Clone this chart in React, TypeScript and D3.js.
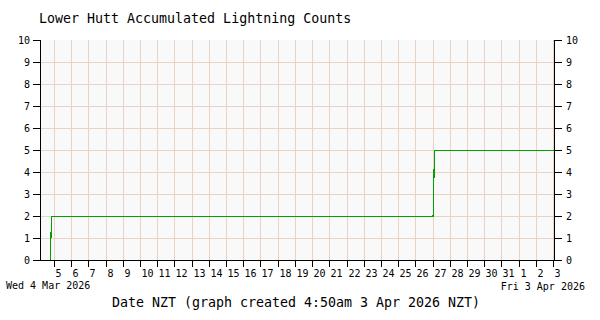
import React from "react";
import * as d3 from "d3";

const title = "Lower Hutt Accumulated Lightning Counts";
const xTitle = "Date NZT (graph created 4:50am 3 Apr 2026 NZT)";
const startLabel = "Wed 4 Mar 2026";
const endLabel = "Fri 3 Apr 2026";
const yTicks = [0, 1, 2, 3, 4, 5, 6, 7, 8, 9, 10];

// accumulated count samples (NZT)
const sampleTimes = [
  new Date(2026, 2, 4, 4, 30),
  new Date(2026, 2, 4, 18, 0),
  new Date(2026, 2, 4, 20, 0),
  new Date(2026, 2, 27, 0, 0),
  new Date(2026, 2, 27, 2, 0),
  new Date(2026, 3, 3, 1, 20),
];
const sampleCounts = [0, 0, 2, 2, 5, 5];

const domainStart = new Date(2026, 2, 4, 4, 30);
const domainEnd = new Date(2026, 3, 3, 1, 20);

const FONT = "'DejaVu Sans Mono', monospace";

export default function App() {
  const left = 40, right = 554, top = 40, bottom = 260;
  const x = d3.scaleTime().domain([domainStart, domainEnd]).range([left, right]);
  const y = d3.scaleLinear().domain([0, 10]).range([bottom, top]);
  const px = (v: number) => Math.round(v) + 0.5;

  const dayTicks = d3.timeDay.range(d3.timeDay.ceil(domainStart), domainEnd);
  const data = sampleTimes.map((t, i) => ({ t, v: sampleCounts[i] }));
  const line = d3
    .line<{ t: Date; v: number }>()
    .x((d) => x(d.t) + 0.5)
    .y((d) => px(y(d.v)));

  return (
    <svg
      width={600}
      height={320}
      style={{ position: "absolute", left: 0, top: 0, background: "#fff" }}
      fontFamily={FONT}
    >
      <rect x={0} y={0} width={600} height={320} fill="#fff" />
      <rect x={left} y={top} width={right - left} height={bottom - top} fill="#f9f9f9" />
      <g stroke="#ebd2c6" strokeWidth={1} shapeRendering="crispEdges">
        {dayTicks.map((d, i) => (
          <line key={"gx" + i} x1={px(x(d))} x2={px(x(d))} y1={top} y2={bottom} />
        ))}
        {yTicks.slice(1, -1).map((v) => (
          <line key={"gy" + v} x1={left} x2={right} y1={px(y(v))} y2={px(y(v))} />
        ))}
      </g>
      <path
        d={line(data) || ""}
        fill="none"
        stroke="#00a000"
        strokeWidth={1.2}
        shapeRendering="crispEdges"
      />
      <g stroke="#000" strokeWidth={1} shapeRendering="crispEdges">
        <line x1={left + 0.5} x2={left + 0.5} y1={top} y2={bottom + 1} />
        <line x1={right + 0.5} x2={right + 0.5} y1={top} y2={bottom + 1} />
        <line x1={left} x2={right + 1} y1={bottom + 0.5} y2={bottom + 0.5} />
        {yTicks.map((v) => (
          <g key={"ty" + v}>
            <line x1={33} x2={left} y1={px(y(v))} y2={px(y(v))} />
            <line x1={right + 1} x2={562} y1={px(y(v))} y2={px(y(v))} />
          </g>
        ))}
        {dayTicks.map((d, i) => (
          <line key={"tx" + i} x1={px(x(d))} x2={px(x(d))} y1={bottom} y2={267} />
        ))}
      </g>
      <g fontSize={10} fill="#000">
        {yTicks.map((v) => (
          <text key={"ly" + v} x={30} y={y(v) + 4} textAnchor="end">
            {v}
          </text>
        ))}
        {yTicks.map((v) => (
          <text key={"ry" + v} x={566} y={y(v) + 4} textAnchor="start">
            {v}
          </text>
        ))}
        {dayTicks.map((d, i) => (
          <text key={"lx" + i} x={px(x(d)) + 1} y={277}>
            {d3.timeFormat("%-d")(d)}
          </text>
        ))}
        <text x={6} y={289}>{startLabel}</text>
        <text x={585} y={290} textAnchor="end">{endLabel}</text>
      </g>
      <text x={39} y={23} fontSize={13.3} fill="#000">{title}</text>
      <text x={296} y={307} fontSize={13.3} fill="#000" textAnchor="middle">{xTitle}</text>
    </svg>
  );
}
